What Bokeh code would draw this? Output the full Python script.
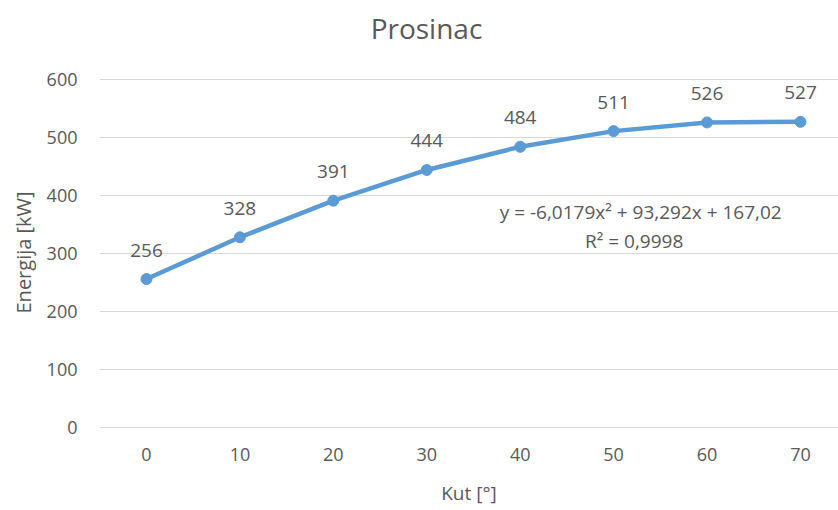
from bokeh.plotting import figure
from bokeh.models import Range1d, FixedTicker, ColumnDataSource, LabelSet, Label, Title
from bokeh.core.properties import value
from bokeh.embed import file_html
from bokeh.resources import INLINE

angles = [0, 10, 20, 30, 40, 50, 60, 70]
energy = [256, 328, 391, 444, 484, 511, 526, 527]
y_ticks = [0, 100, 200, 300, 400, 500, 600]
title_text = "Prosinac"
x_title = "Kut [°]"
y_title = "Energija [kW]"
equation = "y = -6,0179x² + 93,292x + 167,02"
r_squared = "R² = 0,9998"

TEXT = "#595959"
FONT = "Open Sans"

p = figure(width=838, height=510, output_backend="svg", toolbar_location=None,
           x_range=Range1d(-5.03, 74.07), y_range=Range1d(-6.9, 736.2))
p.min_border_left = 99
p.min_border_right = 0
p.min_border_top = 0
p.min_border_bottom = 79
p.outline_line_color = None

src = ColumnDataSource(dict(x=angles, y=energy, lbl=[str(v) for v in energy]))
p.line("x", "y", source=src, line_color="#5B9BD5", line_width=4.5)
p.scatter("x", "y", source=src, size=11, fill_color="#5B9BD5", line_color="#5B9BD5")

labels = LabelSet(x="x", y="y", text="lbl", source=src, y_offset=29,
                  text_align="center", text_baseline="middle",
                  text_font=value(FONT), text_font_size="19px", text_color=TEXT)
p.add_layout(labels)

p.add_layout(Label(x=52.9, y=370.7, text=equation, text_align="center", text_baseline="middle",
                   text_font=FONT, text_font_size="19px", text_color=TEXT))
p.add_layout(Label(x=52.2, y=322.4, text=r_squared, text_align="center", text_baseline="middle",
                   text_font=FONT, text_font_size="19px", text_color=TEXT))
p.add_layout(Label(x=29.97, y=688, text=title_text, text_align="center", text_baseline="middle",
                   text_font=FONT, text_font_size="28px", text_color=TEXT))

ytitle = Title(text=y_title, align="left", offset=118, standoff=14,
               text_font=FONT, text_font_size="20px", text_font_style="normal",
               text_color=TEXT)
p.add_layout(ytitle, "left")

for ax in (p.xaxis[0], p.yaxis[0]):
    ax.axis_line_color = None
    ax.major_tick_line_color = None
    ax.minor_tick_line_color = None
    ax.major_tick_out = 0
    ax.major_tick_in = 0
    ax.minor_tick_out = 0
    ax.minor_tick_in = 0
    ax.major_label_text_font = FONT
    ax.major_label_text_font_size = "18px"
    ax.major_label_text_color = TEXT
    ax.axis_label_text_font = FONT
    ax.axis_label_text_font_size = "19px"
    ax.axis_label_text_font_style = "normal"
    ax.axis_label_text_color = TEXT

p.xaxis.ticker = FixedTicker(ticks=angles)
p.yaxis.ticker = FixedTicker(ticks=y_ticks)
p.xaxis.axis_label = x_title
p.xaxis.major_label_standoff = 16
p.yaxis.major_label_standoff = 22
p.xaxis.axis_label_standoff = 16

p.xgrid.grid_line_color = None
p.ygrid.grid_line_color = "#D9D9D9"
p.ygrid.grid_line_width = 1

open("out.html", "w").write(file_html(p, INLINE))
